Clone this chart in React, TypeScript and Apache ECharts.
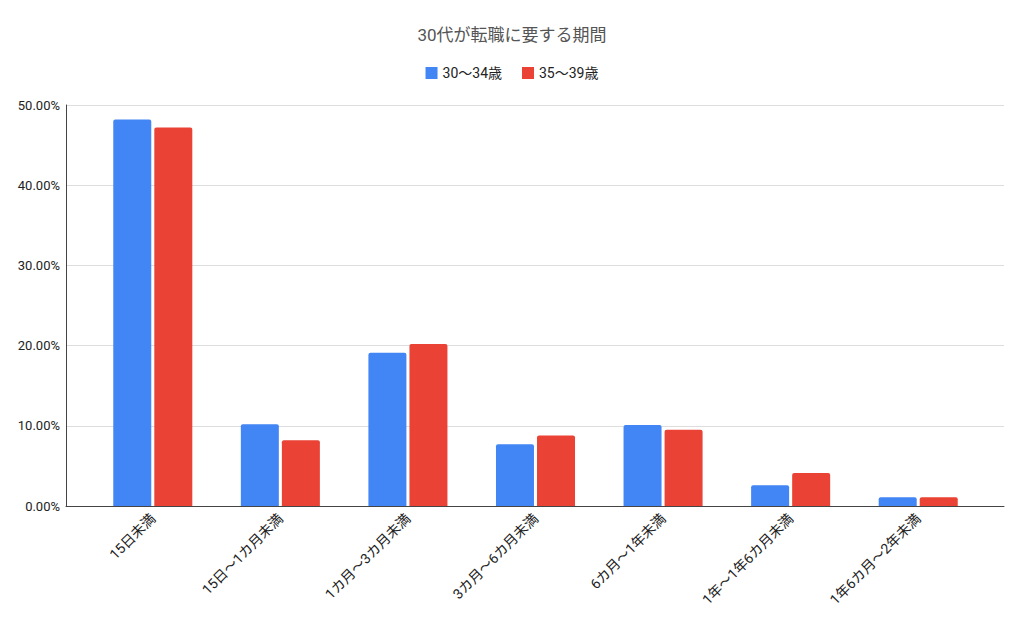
import React, { useEffect, useRef } from "react";
import * as echarts from "echarts";

const title = "30代が転職に要する期間";
const categories = [
  "15日未満",
  "15日～1カ月未満",
  "1カ月～3カ月未満",
  "3カ月～6カ月未満",
  "6カ月～1年未満",
  "1年～1年6カ月未満",
  "1年6カ月～2年未満",
];
const seriesNames = ["30～34歳", "35～39歳"];
const age30to34 = [48.2, 10.2, 19.1, 7.7, 10.1, 2.6, 1.1];
const age35to39 = [47.2, 8.2, 20.2, 8.8, 9.5, 4.1, 1.1];
const colors = ["#4285F4", "#EA4335"];

const FONT = "Roboto, 'Noto Sans CJK JP', 'Noto Sans', sans-serif";

export default function App() {
  const ref = useRef<HTMLDivElement>(null);
  useEffect(() => {
    if (!ref.current) return;
    const chart = echarts.init(ref.current, undefined, { renderer: "svg" });
    const top = 105;
    const bottom = 122;
    chart.setOption({
      animation: false,
      backgroundColor: "#ffffff",
      textStyle: { fontFamily: FONT },
      title: {
        text: title,
        left: "center",
        top: 21,
        textStyle: { fontFamily: FONT, fontSize: 17, fontWeight: "normal", color: "#555555" },
      },
      legend: {
        top: 61,
        left: "center",
        icon: "rect",
        itemWidth: 12,
        itemHeight: 12,
        itemGap: 20,
        data: seriesNames,
        textStyle: { fontFamily: FONT, fontSize: 14, color: "#222222" },
      },
      grid: [
        { left: 66, right: 20, top, bottom },
        { left: 89, right: 42, top, bottom },
      ],
      xAxis: [
        {
          gridIndex: 0,
          type: "value",
          min: 0,
          max: 1,
          axisLine: { show: true, lineStyle: { color: "#444444", width: 1 } },
          axisTick: { show: false },
          axisLabel: { show: false },
          splitLine: { show: false },
        },
        {
          gridIndex: 1,
          type: "category",
          data: categories,
          axisLine: { show: false },
          axisTick: { show: false },
          axisLabel: {
            rotate: 45,
            fontFamily: FONT,
            fontSize: 14,
            color: "#222222",
            margin: 10,
            interval: 0,
          },
        },
      ],
      yAxis: [
        {
          gridIndex: 0,
          type: "value",
          min: 0,
          max: 50,
          interval: 10,
          axisLine: { show: true, lineStyle: { color: "#444444", width: 1 } },
          axisTick: { show: false },
          axisLabel: {
            formatter: (v: number) => v.toFixed(2) + "%",
            fontFamily: FONT,
            fontSize: 13,
            color: "#222222",
            margin: 6,
          },
          splitLine: { show: true, lineStyle: { color: "#dddddd", width: 1 } },
        },
        {
          gridIndex: 1,
          type: "value",
          min: 0,
          max: 50,
          interval: 10,
          show: false,
          splitLine: { show: false },
        },
      ],
      series: [
        {
          name: seriesNames[0],
          type: "bar",
          xAxisIndex: 1,
          yAxisIndex: 1,
          data: age30to34,
          barWidth: 38,
          barGap: "8%",
          itemStyle: { color: colors[0], borderRadius: [2, 2, 0, 0] },
        },
        {
          name: seriesNames[1],
          type: "bar",
          xAxisIndex: 1,
          yAxisIndex: 1,
          data: age35to39,
          barWidth: 38,
          barGap: "8%",
          itemStyle: { color: colors[1], borderRadius: [2, 2, 0, 0] },
        },
      ],
    });
    return () => chart.dispose();
  }, []);
  return (
    <div
      ref={ref}
      style={{ position: "fixed", left: 0, top: 0, width: 1024, height: 628 }}
    />
  );
}
